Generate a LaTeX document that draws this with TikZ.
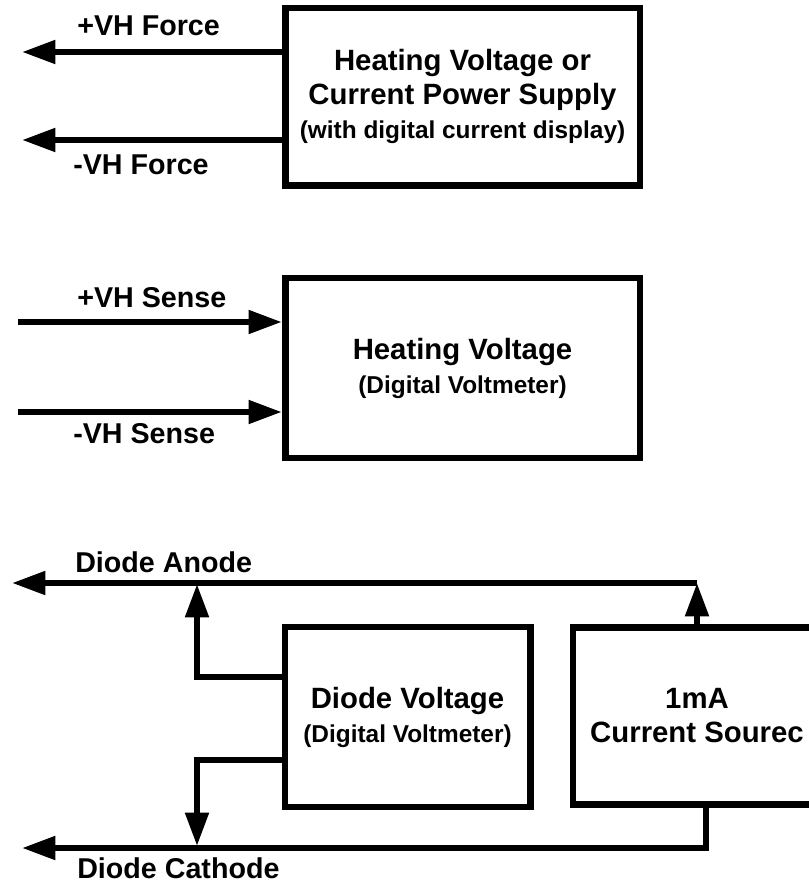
\documentclass[tikz,border=0pt]{standalone}
\usepackage{fontspec}
\setmainfont{Liberation Sans}
\usetikzlibrary{arrows.meta}

\begin{document}
\begin{tikzpicture}[x=0.75pt, y=-0.75pt,
	box/.style={draw, line width=5pt, align=center, inner sep=0pt, font=\bfseries\fontsize{22}{25.5}\selectfont},
	lbl/.style={anchor=base west, inner sep=0pt, font=\bfseries\fontsize{21.5}{25.5}\selectfont},
	wire/.style={line width=4.5pt},
	arr/.style={wire, -{Triangle[length=25pt, width=17pt]}}]
	\useasboundingbox (0,0) rectangle (809,886);
	\node (supply) at (462.5,96.5) [box, minimum width=266pt, minimum height=133pt] {Heating Voltage or\\Current Power Supply\\{\fontsize{18.3}{25.5}\selectfont (with digital current display)}};
	\node (hvm) at (462.5,368) [box, minimum width=266pt, minimum height=135pt] {Heating Voltage\\{\fontsize{18.3}{25.5}\selectfont (Digital Voltmeter)}};
	\node (dvm) at (407.5,717) [box, minimum width=184pt, minimum height=135pt] {Diode Voltage\\{\fontsize{18.3}{25.5}\selectfont (Digital Voltmeter)}};
	\node (isrc) at (697,716) [box, minimum width=186pt, minimum height=133pt] {1mA\\Current Sourec};
	\node (fplus) at (77,35) [lbl] {+VH Force};
	\node (fminus) at (73,174) [lbl] {-VH Force};
	\node (splus) at (77,307) [lbl] {+VH Sense};
	\node (sminus) at (73,443) [lbl] {-VH Sense};
	\node (anode) at (75,572) [lbl] {Diode Anode};
	\node (cathode) at (77,878) [lbl] {Diode Cathode};
	\coordinate (fplusend) at (22,52);
	\coordinate (fminusend) at (22,140);
	\coordinate (splusstart) at (18,322);
	\coordinate (sminusstart) at (18,412);
	\coordinate (aend) at (12,583);
	\coordinate (cend) at (22,848);
	\coordinate (ajn) at (197,584);
	\coordinate (cjn) at (197,846);
	\coordinate (cret) at (706,848);
	\draw[arr] (supply.west |- fplusend) -- (fplusend);
	\draw[arr] (supply.west |- fminusend) -- (fminusend);
	\draw[arr] (splusstart) -- (hvm.west |- splusstart);
	\draw[arr] (sminusstart) -- (hvm.west |- sminusstart);
	\draw[arr] (isrc.north) -- (isrc.north |- aend);
	\draw[arr] (isrc.north |- aend) -- (aend);
	\draw[arr] (dvm.west |- 0,677) -| (ajn);
	\draw[arr] (dvm.west |- 0,760) -| (cjn);
	\draw[arr] (cret |- isrc.south) -- (cret) -- (cend);
\end{tikzpicture}
\end{document}
